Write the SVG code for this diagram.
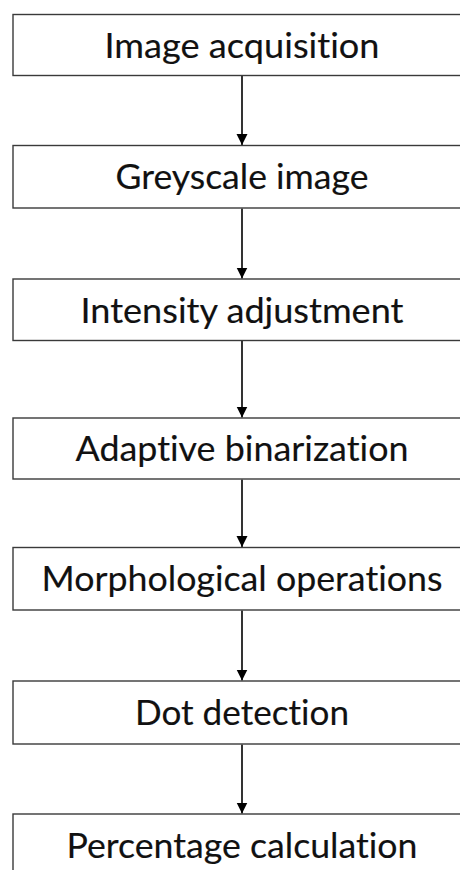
<svg xmlns="http://www.w3.org/2000/svg" width="460" height="870" viewBox="0 0 460 870">
  <defs>
    <style>
      .box { fill: #ffffff; stroke: #3a3a3a; stroke-width: 1.4; }
      .lbl { font-family: Lato, "Open Sans", "Liberation Sans", sans-serif; font-size: 35px; fill: #111111; stroke: #111111; stroke-width: 0.15; text-anchor: middle; font-variant-ligatures: none; font-feature-settings: "liga" 0, "clig" 0; }
      .conn { stroke: #000000; stroke-width: 1.6; fill: none; marker-end: url(#ah); }
    </style>
    <marker id="ah" markerUnits="userSpaceOnUse" markerWidth="12" markerHeight="12" viewBox="0 0 12 12" refX="11" refY="6" orient="auto">
      <path d="M0,0.5 L11,6 L0,11.5 Z" fill="#000000"/>
    </marker>
  </defs>
  <rect width="460" height="870" fill="#ffffff"/>
  <g id="connectors">
    <line class="conn" x1="242" y1="76" x2="242" y2="145"/>
    <line class="conn" x1="242" y1="208.5" x2="242" y2="278.5"/>
    <line class="conn" x1="242" y1="341" x2="242" y2="417.5"/>
    <line class="conn" x1="242" y1="479.5" x2="242" y2="547"/>
    <line class="conn" x1="242" y1="610.5" x2="242" y2="680.5"/>
    <line class="conn" x1="242" y1="744.5" x2="242" y2="813.5"/>
  </g>
  <g id="node1">
    <rect class="box" x="13" y="14.5" width="460" height="61"/>
    <text class="lbl" x="242" y="57.5" textLength="275" lengthAdjust="spacingAndGlyphs">Image acquisition</text>
  </g>
  <g id="node2">
    <rect class="box" x="13" y="145.5" width="460" height="62.5"/>
    <text class="lbl" x="242" y="189" textLength="253" lengthAdjust="spacingAndGlyphs">Greyscale image</text>
  </g>
  <g id="node3">
    <rect class="box" x="13" y="279" width="460" height="61.5"/>
    <text class="lbl" x="242" y="322.5" textLength="323" lengthAdjust="spacingAndGlyphs">Intensity adjustment</text>
  </g>
  <g id="node4">
    <rect class="box" x="13" y="418" width="460" height="61"/>
    <text class="lbl" x="242" y="461" textLength="333" lengthAdjust="spacingAndGlyphs">Adaptive binarization</text>
  </g>
  <g id="node5">
    <rect class="box" x="13" y="547.5" width="460" height="62.5"/>
    <text class="lbl" x="242" y="591" textLength="401" lengthAdjust="spacingAndGlyphs">Morphological operations</text>
  </g>
  <g id="node6">
    <rect class="box" x="13" y="681" width="460" height="63"/>
    <text class="lbl" x="242" y="724.5" textLength="214" lengthAdjust="spacingAndGlyphs">Dot detection</text>
  </g>
  <g id="node7">
    <rect class="box" x="13" y="814" width="460" height="80"/>
    <text class="lbl" x="242" y="857.5" textLength="351" lengthAdjust="spacingAndGlyphs">Percentage calculation</text>
  </g>
</svg>
